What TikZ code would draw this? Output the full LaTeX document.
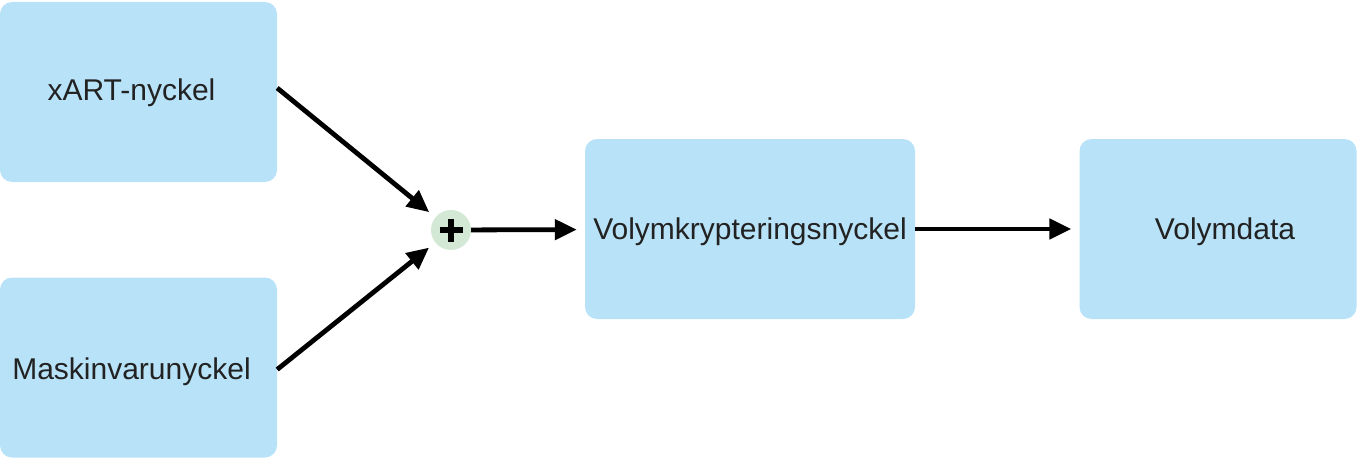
\documentclass[tikz,border=0pt]{standalone}
\usepackage{fontspec}
\setmainfont{Liberation Sans}
\usetikzlibrary{arrows.meta}
\definecolor{keyblue}{HTML}{B8E2F8}
\definecolor{mixgreen}{HTML}{D3E8D5}
\definecolor{ink}{HTML}{222222}
\tikzset{
  kb/.style={rectangle, fill=keyblue, rounded corners=12pt, inner sep=0pt,
             minimum width=277pt, minimum height=180pt, text=ink,
             font=\fontsize{30}{36}\selectfont},                        % key box
  kbtext/.style n args={3}{label={[text=ink, font=\fontsize{30}{36}\selectfont,
             xshift=#1, yshift=#2]center:#3}},                         % offset label
  mix/.style={circle, fill=mixgreen, minimum size=40pt, inner sep=0pt,
              path picture={\draw[line width=6pt] ([xshift=-11.5pt]path picture bounding box.center)--([xshift=11.5pt]path picture bounding box.center)
                            ([yshift=-11.5pt]path picture bounding box.center)--([yshift=11.5pt]path picture bounding box.center);}},
  fe/.style={draw=black, line width=4.8pt, shorten >=8pt,
             -{Triangle[length=22pt, width=20pt]}},                      % flow edge
}

\begin{document}
\begin{tikzpicture}[x=1pt, y=-1pt]
  \useasboundingbox (0,0) rectangle (1357,460);
  \node[kb, kbtext={-7pt}{-1pt}{xART-nyckel}] (xart) at (138.5,92) {};
  \node[kb, kbtext={-7pt}{-4pt}{Maskinvarunyckel}] (hwk) at (138.5,367.5) {};
  \node[mix] (plus) at (451,230) {};
  \node[kb, minimum width=330pt, kbtext={0pt}{-3pt}{Volymkrypteringsnyckel}] (vek) at (750,229) {};
  \node[kb, kbtext={7pt}{-3pt}{Volymdata}] (vdata) at (1218,229) {};
  \draw[fe] ([yshift=4pt]xart.east) -- (plus);
  \draw[fe] ([yshift=-2pt]hwk.east) -- (plus);
  \foreach \u/\v in {plus/vek,vek/vdata} \draw[fe] (\u) -- (\v);
\end{tikzpicture}
\end{document}
